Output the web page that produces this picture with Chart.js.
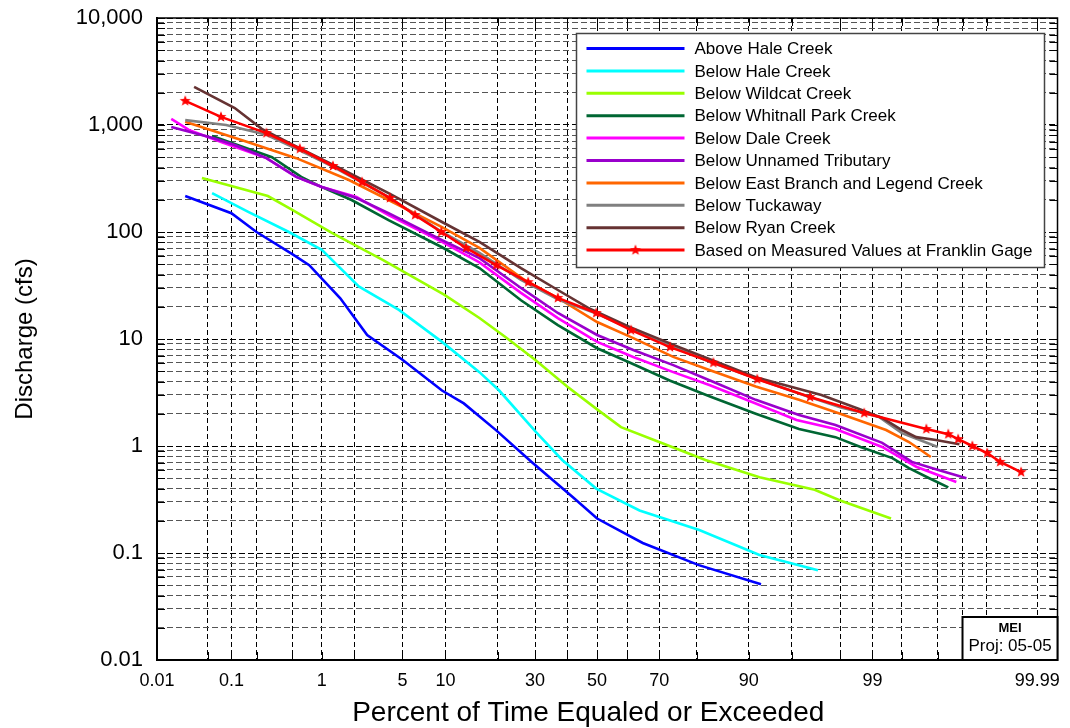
<!DOCTYPE html>
<html>
<head>
<meta charset="utf-8">
<title>Flow Duration Curves</title>
<script src="https://cdn.jsdelivr.net/npm/chart.js@4.4.1/dist/chart.umd.min.js"></script>
<style>
  html, body { margin: 0; padding: 0; background: #fff; }
  #wrap { width: 1070px; height: 728px; }
</style>
</head>
<body>
<div id="wrap"><canvas id="fdc" width="1070" height="728"></canvas></div>
<script>
'use strict';

// percent of time equaled or exceeded / discharge (cfs) for each reach
var aboveHalePct = [0.025, 0.1, 0.2, 0.5, 0.75, 1.5, 2.6, 5, 9.5, 13, 19.7, 29, 42, 50, 65, 80.5, 91.7];
var aboveHaleCfs = [217, 150, 100, 62, 49, 24, 10.9, 6.4, 3.3, 2.5, 1.4, 0.71, 0.33, 0.21, 0.124, 0.077, 0.051];

var belowHalePct = [0.057, 0.16, 0.46, 1.0, 2.2, 4.7, 9.5, 16, 20.4, 30.3, 38.4, 49.7, 64, 80.6, 91.5, 96.9];
var belowHaleCfs = [231, 154, 100, 68, 31, 18.7, 9.4, 4.9, 3.3, 1.35, 0.74, 0.4, 0.25, 0.164, 0.096, 0.069];

var wildcatPct = [0.042, 0.27, 0.5, 1.25, 3.5, 9.8, 16, 22, 30, 40, 50, 58, 70, 82, 91.5, 96.7, 98, 99.35];
var wildcatCfs = [320, 217, 161, 98, 55, 26, 15.7, 10.4, 6.4, 3.6, 2.2, 1.5, 1.09, 0.74, 0.51, 0.39, 0.31, 0.21];

var whitnallPct = [0.057, 0.3, 0.62, 1.0, 1.9, 3.9, 9.5, 16, 26, 37, 50, 61, 73, 83, 91, 95.6, 97.8, 98.7, 99.37, 99.58, 99.75, 99.85];
var whitnallCfs = [790, 500, 327, 263, 199, 129, 72, 46, 23, 13.5, 8.2, 6.0, 4.1, 2.9, 2.0, 1.44, 1.21, 0.98, 0.77, 0.62, 0.5, 0.41];

var dalePct = [0.016, 0.028, 0.076, 0.26, 0.55, 1.0, 2.1, 3.9, 9.5, 16, 26, 37, 50, 62, 74, 83, 91, 95.4, 97.8, 99.2, 99.65, 99.88];
var daleCfs = [1140, 900, 690, 490, 327, 263, 212, 144, 81, 52, 27, 15.7, 9.4, 6.8, 4.9, 3.7, 2.5, 1.75, 1.44, 0.98, 0.64, 0.46];

var unnamedPct = [0.016, 0.057, 0.11, 0.26, 0.55, 1.0, 2.1, 3.9, 9.5, 16, 26, 37, 50, 62, 74, 83, 91, 95.6, 97.8, 99.2, 99.61, 99.77, 99.91];
var unnamedCfs = [960, 760, 650, 490, 327, 263, 208, 150, 84, 57, 30, 17.5, 10.9, 7.9, 5.7, 4.1, 2.7, 1.95, 1.57, 1.07, 0.71, 0.62, 0.5];

var eastBranchPct = [0.025, 0.16, 0.55, 1.8, 3.9, 9.5, 16, 27, 38, 50, 62, 74, 83, 91, 95.6, 98, 99.27, 99.58, 99.76];
var eastBranchCfs = [1070, 690, 490, 306, 199, 111, 71, 35.6, 23.2, 14.4, 10.2, 6.8, 5.1, 3.6, 2.7, 2.0, 1.41, 1.09, 0.79];

var tuckawayPct = [0.025, 0.086, 0.26, 0.59, 1.3, 3.9, 9.5, 16, 26, 37, 50, 62, 74, 83, 91, 95.6, 98, 99.14, 99.5, 99.68, 99.8];
var tuckawayCfs = [1110, 1000, 810, 584, 405, 212, 100, 64, 35.6, 23.5, 17.2, 12.1, 8.6, 6.1, 4.3, 3.1, 2.3, 1.87, 1.32, 1.14, 0.98];

var ryanPct = [0.033, 0.11, 0.23, 0.59, 1.6, 3.9, 9.5, 16, 26, 37, 47, 61, 75.6, 91, 97.1, 98.66, 99.2, 99.5, 99.65, 99.79, 99.89];
var ryanCfs = [2270, 1440, 920, 610, 380, 231, 124, 81, 46, 28.7, 19.5, 12.9, 8.4, 4.4, 3.0, 2.22, 1.83, 1.41, 1.21, 1.14, 1.04];

var franklinPct = [0.025, 0.074, 0.26, 0.6, 1.28, 2.35, 4.0, 6.2, 9.4, 13.4, 19.7, 28, 37, 49.7, 61.3, 73.1, 83.7, 91.2, 96.4, 98.8, 99.73, 99.85, 99.886, 99.924, 99.951, 99.967, 99.983];
var franklinCfs = [1680, 1190, 840, 600, 414, 293, 208, 144, 100, 71, 49, 34, 24.2, 17.5, 12.1, 8.4, 6.0, 4.2, 2.87, 2.03, 1.44, 1.29, 1.16, 1.0, 0.86, 0.71, 0.57];

var seriesNames = [
  'Above Hale Creek',
  'Below Hale Creek',
  'Below Wildcat Creek',
  'Below Whitnall Park Creek',
  'Below Dale Creek',
  'Below Unnamed Tributary',
  'Below East Branch and Legend Creek',
  'Below Tuckaway',
  'Below Ryan Creek',
  'Based on Measured Values at Franklin Gage'
];
var seriesPct = [aboveHalePct, belowHalePct, wildcatPct, whitnallPct, dalePct, unnamedPct, eastBranchPct, tuckawayPct, ryanPct, franklinPct];
var seriesCfs = [aboveHaleCfs, belowHaleCfs, wildcatCfs, whitnallCfs, daleCfs, unnamedCfs, eastBranchCfs, tuckawayCfs, ryanCfs, franklinCfs];
var seriesColors = ['#0000ff', '#00ffff', '#99ff00', '#006633', '#ff00ff', '#9900cc', '#ff6600', '#808080', '#663333', '#ff0000'];

// probability axis: grid percents and the ones that get a label
var xGridPct = [0.01, 0.05, 0.1, 0.2, 0.5, 1, 2, 5, 10, 20, 30, 40, 50, 60, 70, 80, 90, 95, 98, 99, 99.5, 99.8, 99.9, 99.95, 99.99];
var xLabelPct = [0.01, 0.1, 1, 5, 10, 30, 50, 70, 90, 99, 99.99];
// log axis decades that get a label
var yLabelTicks = [0.01, 0.1, 1, 10, 100, 1000, 10000];

var xTitle = 'Percent of Time Equaled or Exceeded';
var FONT = '"Liberation Sans", Arial, Helvetica, sans-serif';

// inverse of the standard normal cdf (Acklam)
function normInv(p) {
  var a = [-39.69683028665376, 220.9460984245205, -275.9285104469687, 138.3577518672690, -30.66479806614716, 2.506628277459239];
  var b = [-54.47609879822406, 161.5858368580409, -155.6989798598866, 66.80131188771972, -13.28068155288572];
  var c = [-0.007784894002430293, -0.3223964580411365, -2.400758277161838, -2.549671010228764, 4.374664141464968, 2.938163982698783];
  var d = [0.007784695709041462, 0.3224671290700398, 2.445134137142996, 3.754408661907416];
  var q, r;
  if (p < 0.02425) {
    q = Math.sqrt(-2 * Math.log(p));
    return (((((c[0] * q + c[1]) * q + c[2]) * q + c[3]) * q + c[4]) * q + c[5]) / ((((d[0] * q + d[1]) * q + d[2]) * q + d[3]) * q + 1);
  }
  if (p > 1 - 0.02425) {
    q = Math.sqrt(-2 * Math.log(1 - p));
    return -(((((c[0] * q + c[1]) * q + c[2]) * q + c[3]) * q + c[4]) * q + c[5]) / ((((d[0] * q + d[1]) * q + d[2]) * q + d[3]) * q + 1);
  }
  q = p - 0.5;
  r = q * q;
  return (((((a[0] * r + a[1]) * r + a[2]) * r + a[3]) * r + a[4]) * r + a[5]) * q / (((((b[0] * r + b[1]) * r + b[2]) * r + b[3]) * r + b[4]) * r + 1);
}

function normCdf(z) {
  var t = 1 / (1 + 0.2316419 * Math.abs(z));
  var y = 0.3989423 * Math.exp(-z * z / 2) * t * (0.3193815 + t * (-0.3565638 + t * (1.781478 + t * (-1.821256 + t * 1.330274))));
  return z > 0 ? 1 - y : y;
}

class ProbabilityScale extends Chart.Scale {
  determineDataLimits() {
    this.min = this.options.min;
    this.max = this.options.max;
  }
  buildTicks() {
    return xGridPct.map(function(v) { return {value: v}; });
  }
  configure() {
    super.configure();
    this._zMin = normInv(this.min / 100);
    this._zMax = normInv(this.max / 100);
  }
  getLabelForValue(v) {
    return String(v);
  }
  getPixelForValue(v) {
    var z = normInv(v / 100);
    return this.getPixelForDecimal((z - this._zMin) / (this._zMax - this._zMin));
  }
  getValueForPixel(px) {
    var z = this._zMin + this.getDecimalForPixel(px) * (this._zMax - this._zMin);
    return normCdf(z) * 100;
  }
  getPixelForTick(i) {
    return this.getPixelForValue(this.ticks[i].value);
  }
}
ProbabilityScale.id = 'probability';
ProbabilityScale.defaults = {};
Chart.register(ProbabilityScale);

function isLabelled(list, v) {
  return list.some(function(t) { return Math.abs(t - v) / t < 1e-6; });
}

// 1..9 times every decade on the discharge axis
var yGrid = [];
for (var e = -2; e < 4; e++) {
  for (var k = 1; k < 10; k++) {
    yGrid.push(parseFloat((k * Math.pow(10, e)).toPrecision(6)));
  }
}
yGrid.push(10000);

// small red star used on the gage curve
function makeStar(color) {
  var cv = document.createElement('canvas');
  cv.width = 14; cv.height = 14;
  var g = cv.getContext('2d');
  g.fillStyle = color;
  g.beginPath();
  for (var i = 0; i < 10; i++) {
    var r = i % 2 === 0 ? 5.8 : 2.4;
    var ang = -Math.PI / 2 + i * Math.PI / 5;
    var px = 7 + r * Math.cos(ang), py = 7 + r * Math.sin(ang);
    if (i === 0) g.moveTo(px, py); else g.lineTo(px, py);
  }
  g.closePath();
  g.fill();
  return cv;
}
var starMark = makeStar('#ff0000');

var datasets = seriesNames.map(function(name, i) {
  var isGage = i === seriesNames.length - 1;
  return {
    label: name,
    data: seriesPct[i].map(function(p, j) { return {x: p, y: seriesCfs[i][j]}; }),
    borderColor: seriesColors[i],
    backgroundColor: seriesColors[i],
    borderWidth: 2.6,
    pointRadius: isGage ? 6 : 0,
    pointStyle: isGage ? starMark : 'circle',
    tension: 0,
    fill: false,
    order: seriesNames.length - i
  };
});

// frame round the plot with inward tick marks on all four sides
var frameTicks = {
  id: 'frameTicks',
  beforeDatasetsDraw: function(chart) {
    var ctx = chart.ctx, a = chart.chartArea;
    var xs = chart.scales.x, ys = chart.scales.y;
    var len = 8;
    ctx.save();
    ctx.strokeStyle = '#000';
    ctx.lineWidth = 1;
    ctx.beginPath();
    xs.ticks.forEach(function(t) {
      var px = Math.round(xs.getPixelForValue(t.value)) + 0.5;
      ctx.moveTo(px, a.bottom); ctx.lineTo(px, a.bottom - len);
      ctx.moveTo(px, a.top); ctx.lineTo(px, a.top + len);
    });
    ys.ticks.forEach(function(t) {
      var py = Math.round(ys.getPixelForValue(t.value)) + 0.5;
      ctx.moveTo(a.left, py); ctx.lineTo(a.left + len, py);
      ctx.moveTo(a.right, py); ctx.lineTo(a.right - len, py);
    });
    ctx.stroke();
    ctx.lineWidth = 1.5;
    ctx.strokeRect(a.left, a.top, a.right - a.left, a.bottom - a.top);
    ctx.restore();
  }
};

// boxed legend in the upper right of the plot, stamp in the lower right, x title
var boxLegend = {
  id: 'boxLegend',
  afterDraw: function(chart) {
    var ctx = chart.ctx, a = chart.chartArea;
    var sets = chart.data.datasets;
    var rowH = 22.4, sample = 98;
    ctx.save();
    ctx.font = '17px ' + FONT;
    var textW = 0;
    sets.forEach(function(d) { textW = Math.max(textW, ctx.measureText(d.label).width); });
    var w = Math.round(10 + sample + 10 + textW + 12);
    var h = Math.round(rowH * (sets.length - 1) + 32);
    var x0 = Math.round(a.right - 14 - w) + 0.5, y0 = Math.round(a.top + 15) + 0.5;
    ctx.fillStyle = '#fff';
    ctx.fillRect(x0, y0, w, h);
    ctx.strokeStyle = '#444';
    ctx.lineWidth = 1.5;
    ctx.strokeRect(x0, y0, w, h);
    sets.forEach(function(d, i) {
      var cy = y0 + 15 + i * rowH;
      ctx.strokeStyle = d.borderColor;
      ctx.lineWidth = 3;
      ctx.beginPath();
      ctx.moveTo(x0 + 10, cy);
      ctx.lineTo(x0 + 10 + sample, cy);
      ctx.stroke();
      if (d.pointStyle instanceof HTMLCanvasElement) {
        ctx.drawImage(d.pointStyle, x0 + 10 + sample / 2 - 7, cy - 7);
      }
      ctx.fillStyle = '#000';
      ctx.textBaseline = 'middle';
      ctx.textAlign = 'left';
      ctx.fillText(d.label, x0 + 10 + sample + 10, cy + 1);
    });

    // project stamp in the lower right corner
    var bw = 95, bh = 43;
    var bx = a.right - bw, by = a.bottom - bh;
    ctx.fillStyle = '#fff';
    ctx.fillRect(bx, by, bw, bh);
    ctx.strokeStyle = '#000';
    ctx.lineWidth = 2;
    ctx.strokeRect(bx, by, bw, bh);
    ctx.fillStyle = '#000';
    ctx.textAlign = 'center';
    ctx.font = 'bold 13px ' + FONT;
    ctx.fillText('MEI', bx + bw / 2, by + 11);
    ctx.font = '17px ' + FONT;
    ctx.fillText('Proj: 05-05', bx + bw / 2, by + 29);

    // x axis title, set a little left of the plot centre
    ctx.font = '28px ' + FONT;
    ctx.fillText(xTitle, (a.left + a.right) / 2 - 19, 713);
    ctx.restore();
  }
};

var chart = new Chart(document.getElementById('fdc'), {
  type: 'line',
  data: {datasets: datasets},
  options: {
    responsive: false,
    animation: false,
    devicePixelRatio: 1,
    layout: {padding: {top: 18, right: 12, left: 0, bottom: 0}},
    plugins: {legend: {display: false}, tooltip: {enabled: false}},
    scales: {
      x: {
        type: 'probability',
        min: 0.01,
        max: 99.995,
        afterFit: function(s) { s.height = 68; },
        grid: {color: '#000', lineWidth: 1, drawTicks: false},
        border: {display: true, color: '#000', width: 2, dash: [5, 3]},
        ticks: {
          autoSkip: false,
          maxRotation: 0,
          padding: 10,
          color: '#000',
          font: {family: FONT, size: 18},
          callback: function(v) { return isLabelled(xLabelPct, v) ? String(v) : ''; }
        }
      },
      y: {
        type: 'logarithmic',
        min: 0.01,
        max: 10000,
        afterFit: function(s) {
          s.width = 157;
          s.paddingTop = 0;
          s.paddingBottom = 0;
        },
        afterBuildTicks: function(s) {
          s.ticks = yGrid.map(function(v) { return {value: v}; });
        },
        grid: {
          lineWidth: 1,
          drawTicks: false,
          color: function(c) {
            return c.tick && isLabelled(yLabelTicks, c.tick.value) ? '#000' : '#555';
          }
        },
        border: {display: true, color: '#000', width: 2, dash: [6, 3]},
        ticks: {
          autoSkip: false,
          padding: 14,
          color: '#000',
          font: {family: FONT, size: 22},
          callback: function(v) {
            if (!isLabelled(yLabelTicks, v)) return '';
            return v >= 1 ? v.toLocaleString('en-US') : String(v);
          }
        },
        title: {
          display: true,
          text: 'Discharge (cfs)',
          color: '#000',
          font: {family: FONT, size: 24},
          padding: {top: 11, bottom: 0}
        }
      }
    }
  },
  plugins: [frameTicks, boxLegend]
});
</script>
</body>
</html>
